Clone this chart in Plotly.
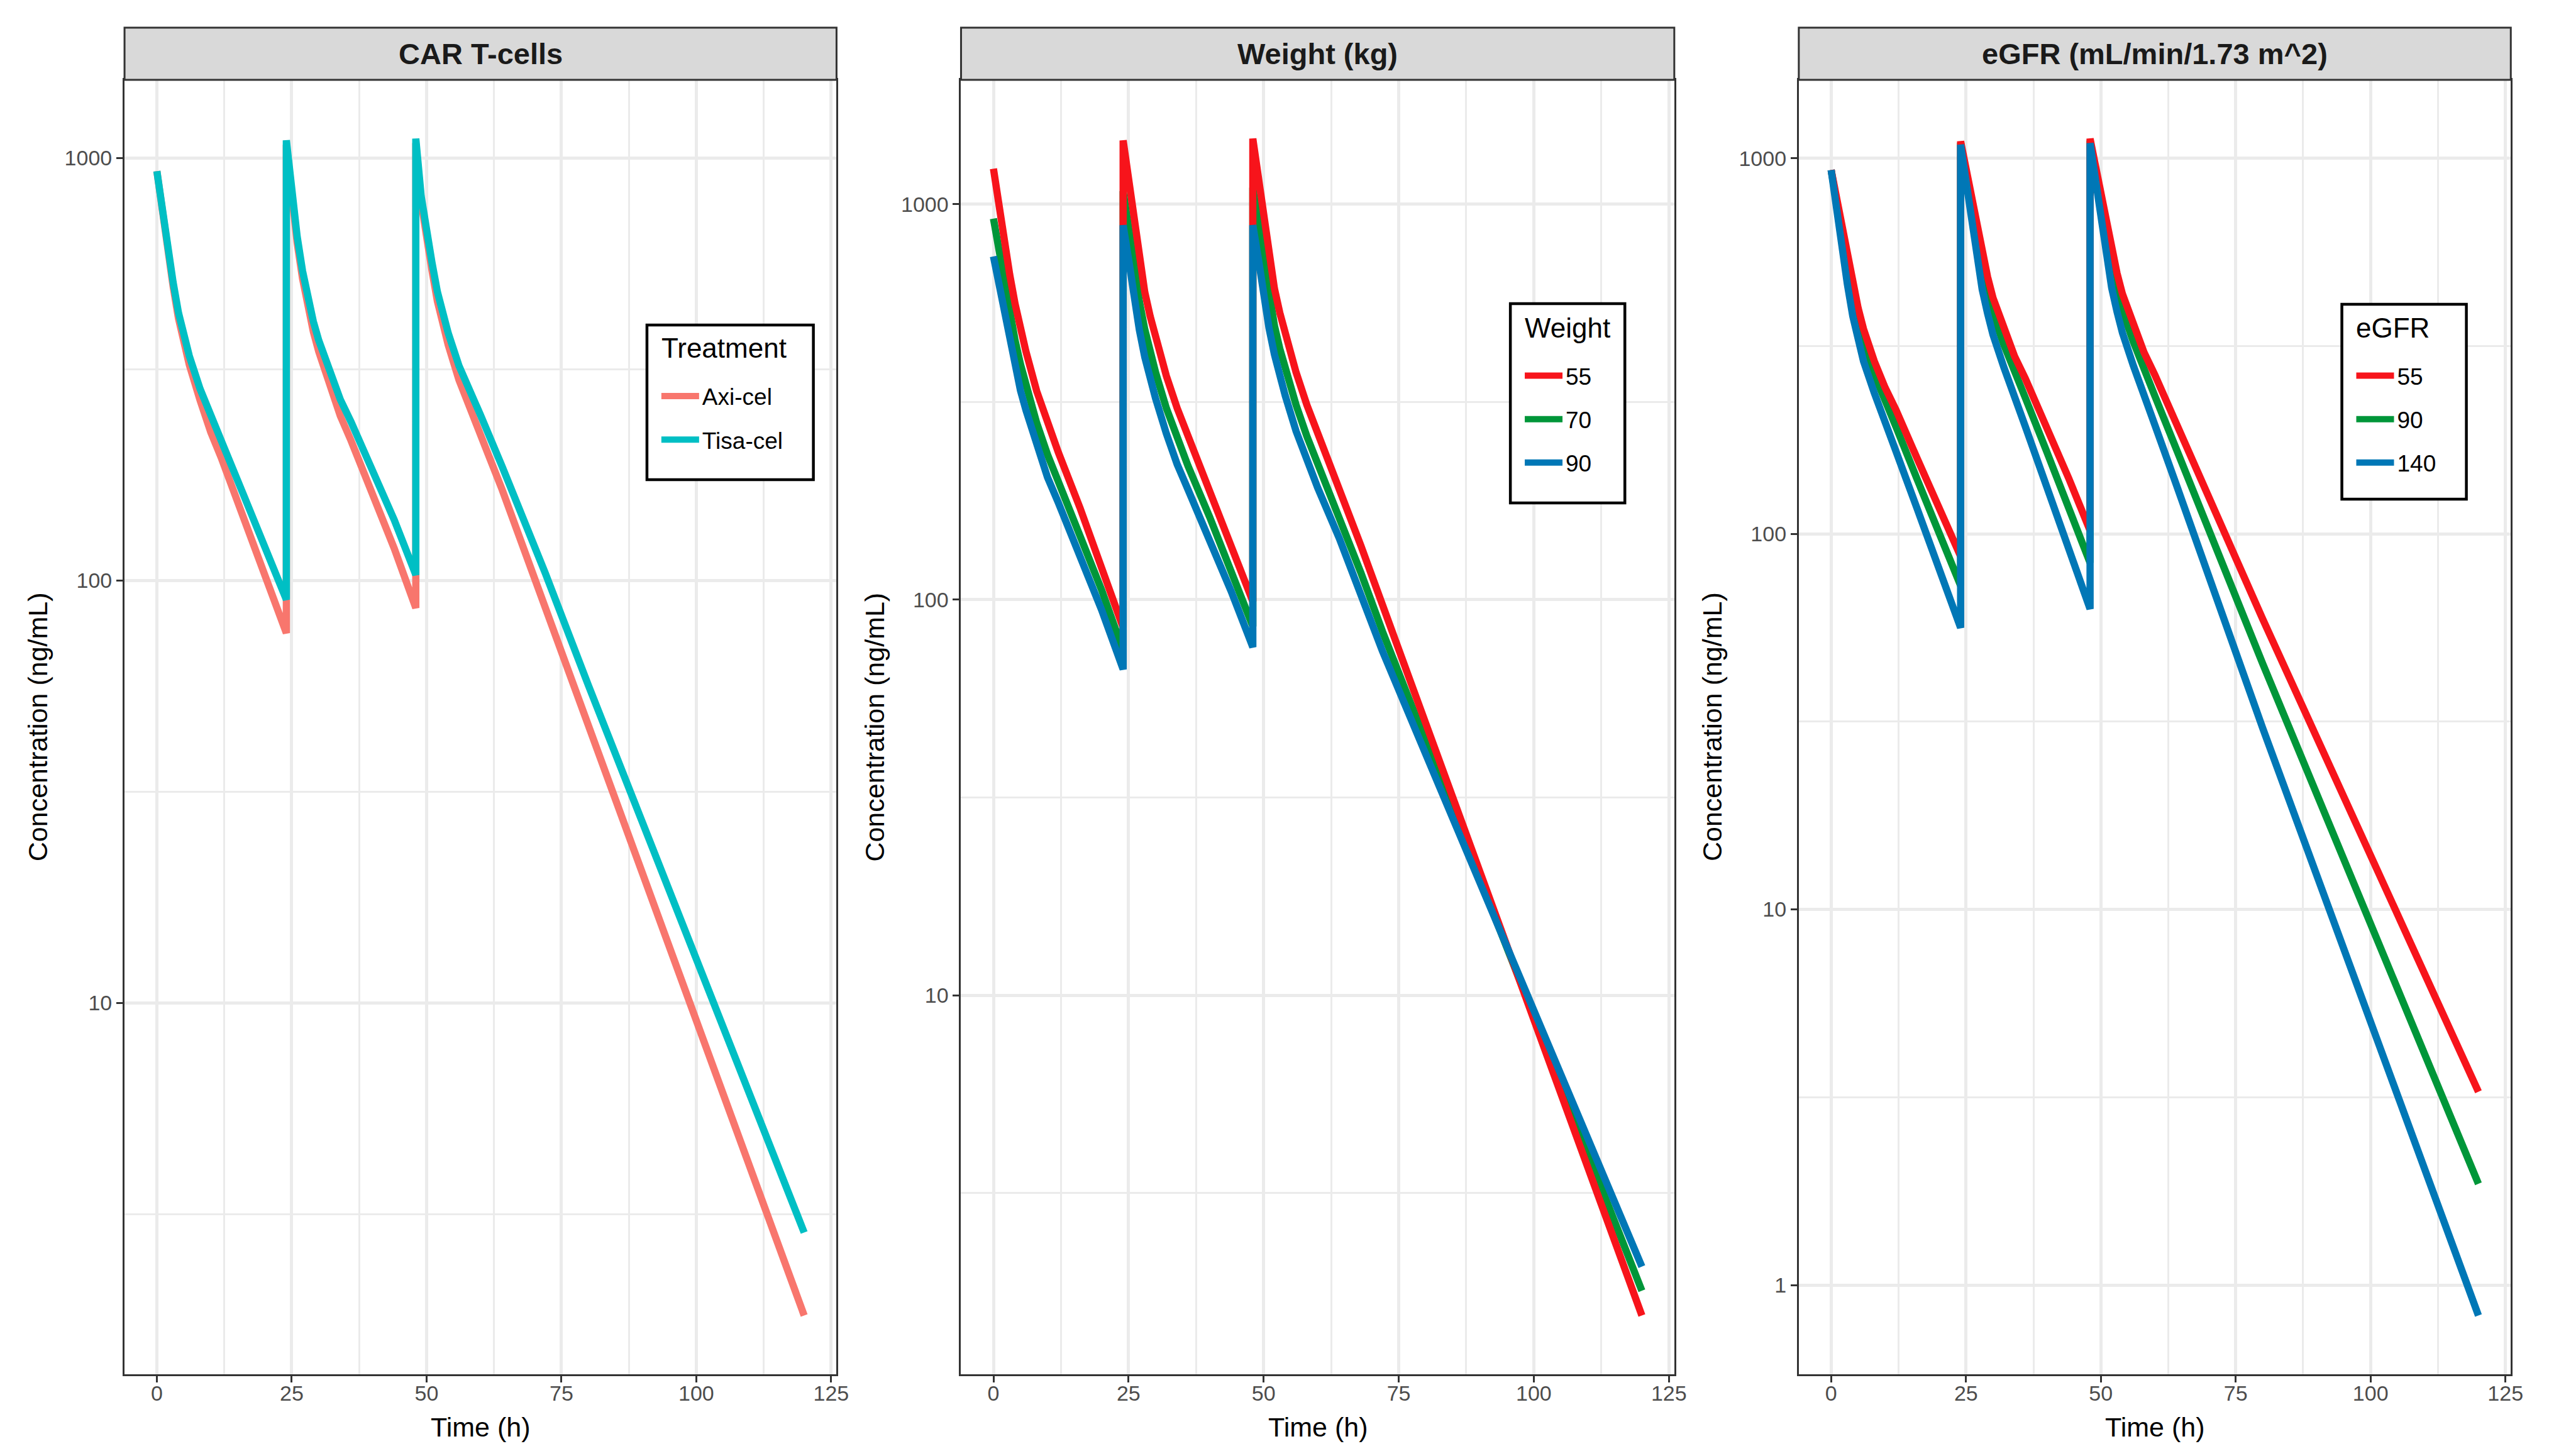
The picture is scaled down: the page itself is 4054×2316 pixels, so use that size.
import numpy as np
import plotly.graph_objects as go

# simulated concentration-time profiles (ng/mL), three doses at 0, 24, 48 h
time_h = [0, 1, 2, 3, 4, 5, 6, 8, 10, 12, 16, 20, 24,
          24, 25, 26, 27, 28, 29, 30, 32, 34, 36, 40, 44, 48,
          48, 49, 50, 51, 52, 53, 54, 56, 58, 60, 64, 68, 72, 80, 120]

# panel 1: CAR T-cells
axi_cel = [930, 740, 604, 497, 417, 364, 324, 267, 224, 194, 142, 104, 75,
           1074, 802, 630, 518, 441, 388, 348, 289, 245, 214, 161, 119, 86,
           1084, 785, 641, 541, 458, 403, 361, 298, 253, 221, 164, 119, 86, 44.4, 1.82]
tisa_cel = [930, 745, 612, 508, 430, 379, 340, 284, 243, 213, 160, 121, 90,
            1100, 825, 652, 540, 462, 410, 370, 312, 268, 237, 183, 139, 103,
            1110, 810, 665, 565, 482, 427, 385, 322, 278, 246, 186, 140, 104, 56.4, 2.86]

# panel 2: body weight (kg)
wt_55 = [1230, 990, 805, 665, 560, 483, 425, 337, 278, 236, 171, 122, 85,
         1450, 1145, 892, 715, 600, 521, 460, 368, 305, 259, 190, 138, 99,
         1465, 1160, 905, 728, 612, 531, 470, 376, 311, 264, 193, 137, 97, 48.5, 1.55]
wt_70 = [920, 761, 634, 532, 453, 394, 349, 280, 233, 199, 147, 106, 74.4,
         1080, 877, 698, 569, 483, 422, 376, 305, 254, 218, 162, 119, 85.6,
         1102, 892, 710, 579, 493, 431, 384, 311, 259, 221, 163, 117, 83.1, 43.7, 1.79]
wt_90 = [738, 625, 528, 450, 386, 338, 302, 244, 204, 176, 130, 94.4, 66.7,
         885, 727, 585, 481, 411, 361, 323, 263, 220, 190, 142, 105, 75.9,
         885, 732, 590, 486, 417, 366, 328, 267, 223, 192, 143, 103, 74.1, 40.7, 2.06]

# panel 3: eGFR
egfr_55 = [930, 776, 653, 550, 462, 399, 351, 288, 245, 214, 158, 117, 87.1,
           1109, 933, 785, 664, 558, 483, 425, 351, 297, 259, 192, 141, 102,
           1127, 955, 804, 679, 571, 494, 435, 359, 304, 265, 196, 145, 106, 59.3, 3.27]
egfr_90 = [930, 757, 619, 512, 427, 369, 324, 266, 224, 193, 139, 101, 72.8,
           1099, 899, 738, 611, 509, 440, 387, 319, 267, 230, 165, 119, 83.7,
           1114, 916, 752, 622, 519, 448, 394, 325, 272, 233, 168, 121, 86.1, 45.1, 1.86]
egfr_140 = [930, 728, 575, 462, 380, 328, 288, 237, 196, 166, 116, 80.7, 56.2,
            1086, 855, 676, 543, 447, 386, 339, 278, 228, 193, 133, 92.3, 63.1,
            1096, 865, 684, 550, 452, 390, 343, 281, 231, 195, 135, 93.3, 63.8, 30.4, 0.83]

strip_titles = ["CAR T-cells", "Weight (kg)", "eGFR (mL/min/1.73 m^2)"]
legend_titles = ["Treatment", "Weight", "eGFR"]
x_ticks = [0, 25, 50, 75, 100, 125]
x_minor = [12.5, 37.5, 62.5, 87.5, 112.5]
y_ticks = [1, 10, 100, 1000]
y_minor = [0.3162, 3.162, 31.62, 316.2, 3162]

# (label, values, colour, legend rank); listed in drawing order
panels = [
    [("Axi-cel", axi_cel, "#F8766D", 1), ("Tisa-cel", tisa_cel, "#00BFC4", 2)],
    [("70", wt_70, "#009639", 2), ("55", wt_55, "#F7141B", 1), ("90", wt_90, "#0077B6", 3)],
    [("90", egfr_90, "#009639", 2), ("55", egfr_55, "#F7141B", 1), ("140", egfr_140, "#0077B6", 3)],
]

W, H = 4054, 2316
FONT = "Liberation Sans, Arial, sans-serif"
x_doms = [[191 / W, 1329 / W], [1528 / W, 2668 / W], [2867 / W, 4005 / W]]
y_dom = [1 - 2178 / H, 1 - 119 / H]
strip_top = 1 - 36 / H

# legend boxes in pixels: left, top, right, bottom, title y, items centre y
legend_box = [(1026, 509, 1292, 755, 546, 657),
              (2406, 475, 2589, 792, 513, 659),
              (3735, 476, 3934, 786, 513, 659)]

fig = go.Figure()
layout = dict(width=W, height=H, margin=dict(l=0, r=0, t=0, b=0),
              paper_bgcolor="white", plot_bgcolor="white",
              font=dict(family=FONT, color="black"),
              shapes=[], annotations=[])

for i, series in enumerate(panels):
    sfx = "" if i == 0 else str(i + 1)
    leg = "legend" + sfx
    allv = [v for s in series for v in s[1]]
    lo, hi = np.log10(min(allv)), np.log10(max(allv))
    pad = 0.05 * (hi - lo)

    for name, vals, col, rank in series:
        fig.add_trace(go.Scatter(
            x=time_h, y=vals, mode="lines", name=name,
            line=dict(color=col, width=11.5),
            xaxis="x" + sfx, yaxis="y" + sfx,
            legend=leg, legendgroup=f"{i}-{name}", legendrank=rank))

    layout["xaxis" + sfx] = dict(
        domain=x_doms[i], anchor="y" + sfx, range=[-6, 126],
        tickmode="array", tickvals=x_ticks, ticktext=[str(t) for t in x_ticks],
        ticks="outside", ticklen=10, tickwidth=3, tickcolor="#333333",
        tickfont=dict(size=34, color="#4D4D4D"), ticklabelstandoff=-12,
        showline=True, mirror=True, linecolor="#333333", linewidth=3,
        showgrid=True, gridcolor="#EBEBEB", gridwidth=5, zeroline=False,
        minor=dict(tickmode="array", tickvals=x_minor, showgrid=True,
                   gridcolor="#EBEBEB", gridwidth=2.5, ticks=""))
    layout["yaxis" + sfx] = dict(
        domain=y_dom, anchor="x" + sfx, type="log", range=[lo - pad, hi + pad],
        tickmode="array", tickvals=y_ticks, ticktext=[str(t) for t in y_ticks],
        ticks="outside", ticklen=10, tickwidth=3, tickcolor="#333333",
        tickfont=dict(size=34, color="#4D4D4D"),
        showline=True, mirror=True, linecolor="#333333", linewidth=3,
        showgrid=True, gridcolor="#EBEBEB", gridwidth=5, zeroline=False,
        minor=dict(tickmode="array", tickvals=y_minor, showgrid=True,
                   gridcolor="#EBEBEB", gridwidth=2.5, ticks=""))

    # legend: framed box, title as text, entries from plotly's legend
    bl, bt, br, bb, ty, iy = legend_box[i]
    layout["shapes"].append(dict(
        type="rect", xref="paper", yref="paper", layer="above",
        x0=bl / W, x1=br / W, y0=1 - bb / H, y1=1 - bt / H,
        fillcolor="white", line=dict(color="black", width=4.5)))
    layout["annotations"].append(dict(
        text=legend_titles[i], xref="paper", yref="paper",
        x=(bl + 21) / W, y=1 - ty / H, xanchor="left", yanchor="middle",
        showarrow=False, font=dict(size=44, color="black")))
    layout[leg] = dict(
        x=(bl + 18) / W, xanchor="left", y=1 - iy / H, yanchor="middle",
        bgcolor="rgba(0,0,0,0)", borderwidth=0, itemwidth=60,
        font=dict(size=37, color="black"), tracegroupgap=18)

    # facet strip
    layout["shapes"].append(dict(
        type="rect", xref="paper", yref="paper",
        x0=x_doms[i][0], x1=x_doms[i][1], y0=y_dom[1], y1=strip_top,
        fillcolor="#D9D9D9", line=dict(color="#333333", width=3)))
    cx = (x_doms[i][0] + x_doms[i][1]) / 2
    layout["annotations"].append(dict(
        text=strip_titles[i], xref="paper", yref="paper", x=cx,
        y=(y_dom[1] + strip_top) / 2, xanchor="center", yanchor="middle",
        showarrow=False, font=dict(size=47, color="#1A1A1A", weight="bold")))
    # axis titles
    layout["annotations"].append(dict(
        text="Time (h)", xref="paper", yref="paper", x=cx, y=1 - 2262 / H,
        xanchor="center", yanchor="middle", showarrow=False,
        font=dict(size=43, color="black")))
    layout["annotations"].append(dict(
        text="Concentration (ng/mL)", xref="paper", yref="paper",
        x=(x_doms[i][0] * W - 139) / W, y=(y_dom[0] + y_dom[1]) / 2,
        xanchor="center", yanchor="middle", textangle=-90, showarrow=False,
        font=dict(size=43, color="black")))

fig.update_layout(**layout)
fig.write_html("out.html")
